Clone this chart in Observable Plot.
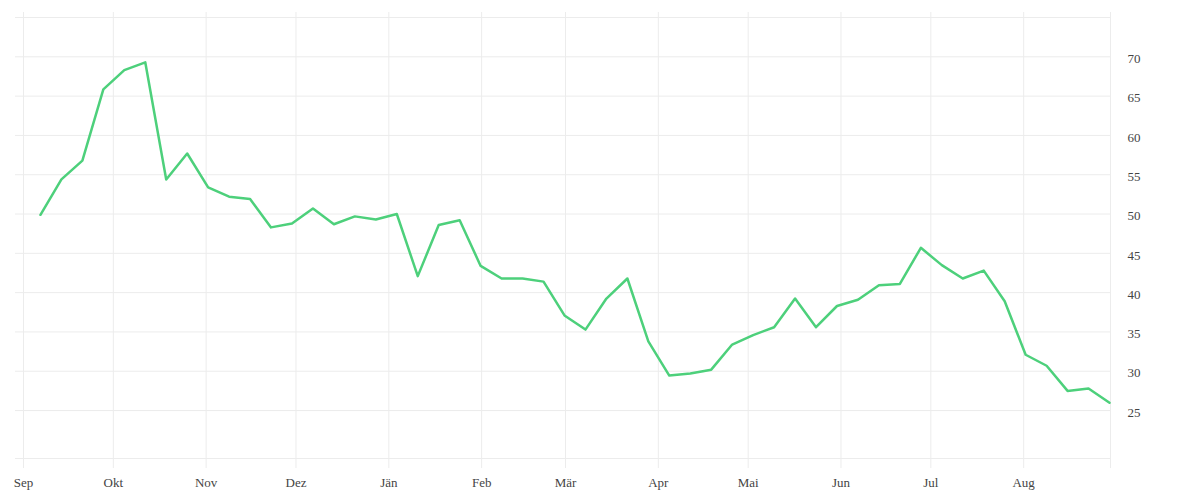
<!DOCTYPE html>
<html>
<head>
<meta charset="utf-8">
<script src="https://cdn.jsdelivr.net/npm/d3@7"></script>
<script src="https://cdn.jsdelivr.net/npm/@observablehq/plot@0.6"></script>
<style>
  html, body { margin: 0; padding: 0; background: #fff; }
  #chart svg { display: block; }
</style>
</head>
<body>
<div id="chart"></div>
<script>
const dates = [
  "2020-09-07","2020-09-14","2020-09-21","2020-09-28","2020-10-05","2020-10-12","2020-10-19","2020-10-26",
  "2020-11-02","2020-11-09","2020-11-16","2020-11-23","2020-11-30","2020-12-07","2020-12-14","2020-12-21",
  "2020-12-28","2021-01-04","2021-01-11","2021-01-18","2021-01-25","2021-02-01","2021-02-08","2021-02-15",
  "2021-02-22","2021-03-01","2021-03-08","2021-03-15","2021-03-22","2021-03-29","2021-04-05","2021-04-12",
  "2021-04-19","2021-04-26","2021-05-03","2021-05-10","2021-05-17","2021-05-24","2021-05-31","2021-06-07",
  "2021-06-14","2021-06-21","2021-06-28","2021-07-05","2021-07-12","2021-07-19","2021-07-26","2021-08-02",
  "2021-08-09","2021-08-16","2021-08-23","2021-08-30"
];
const values = [
  49.9, 54.4, 56.8, 65.85, 68.3, 69.3, 54.4, 57.7,
  53.4, 52.2, 51.9, 48.3, 48.8, 50.7, 48.7, 49.7,
  49.3, 50.0, 42.1, 48.6, 49.2, 43.4, 41.8, 41.8,
  41.4, 37.1, 35.3, 39.25, 41.8, 33.8, 29.45, 29.7,
  30.2, 33.4, 34.6, 35.6, 39.25, 35.6, 38.3, 39.1,
  40.95, 41.1, 45.7, 43.5, 41.8, 42.8, 38.9, 32.1,
  30.7, 27.5, 27.8, 26.0
];
const monthStarts = [
  "2020-09-01","2020-10-01","2020-11-01","2020-12-01","2021-01-01","2021-02-01",
  "2021-03-01","2021-04-01","2021-05-01","2021-06-01","2021-07-01","2021-08-01"
];
const monthLabels = ["Sep","Okt","Nov","Dez","Jän","Feb","Mär","Apr","Mai","Jun","Jul","Aug"];
const yTicks = [25, 30, 35, 40, 45, 50, 55, 60, 65, 70];
const yGrid = [25, 30, 35, 40, 45, 50, 55, 60, 65, 70, 75];

const data = dates.map((d, i) => ({date: new Date(d), value: values[i]}));
const monthTickDates = monthStarts.map(d => new Date(d));
const xDomain = [new Date("2020-08-29T08:00:00Z"), new Date("2021-08-30T00:00:00Z")];
const yDomain = [18.9, 75];

const chart = Plot.plot({
  width: 1200,
  height: 500,
  marginLeft: 15,
  marginRight: 90,
  marginTop: 17,
  marginBottom: 42,
  style: {fontFamily: "'Liberation Serif', 'DejaVu Serif', serif", fontSize: "13px", color: "#444", background: "#fff"},
  x: {type: "utc", domain: xDomain, label: null},
  y: {domain: yDomain, label: null},
  marks: [
    Plot.ruleY(yGrid, {stroke: "#ececec", strokeWidth: 1}),
    Plot.ruleY([yDomain[0]], {stroke: "#ececec", strokeWidth: 1}),
    Plot.ruleX(monthTickDates, {stroke: "#ececec", strokeWidth: 1, insetTop: -5, insetBottom: -10}),
    Plot.ruleX([xDomain[1]], {stroke: "#ececec", strokeWidth: 1, insetTop: -5, insetBottom: -10}),
    Plot.line(data, {x: "date", y: "value", stroke: "#4dd07b", strokeWidth: 2.5, strokeLinejoin: "round", dx: -1}),
    Plot.axisX(monthTickDates, {
      tickSize: 0, tickPadding: 19, label: null,
      tickFormat: (d) => monthLabels[monthTickDates.findIndex(m => +m === +d)],
      fill: "#444"
    }),
    Plot.axisY(yTicks, {
      anchor: "right", tickSize: 0, tickPadding: 17, dy: 2, textAnchor: "start", label: null,
      fill: "#444"
    })
  ]
});
document.getElementById("chart").appendChild(chart);
</script>
</body>
</html>
